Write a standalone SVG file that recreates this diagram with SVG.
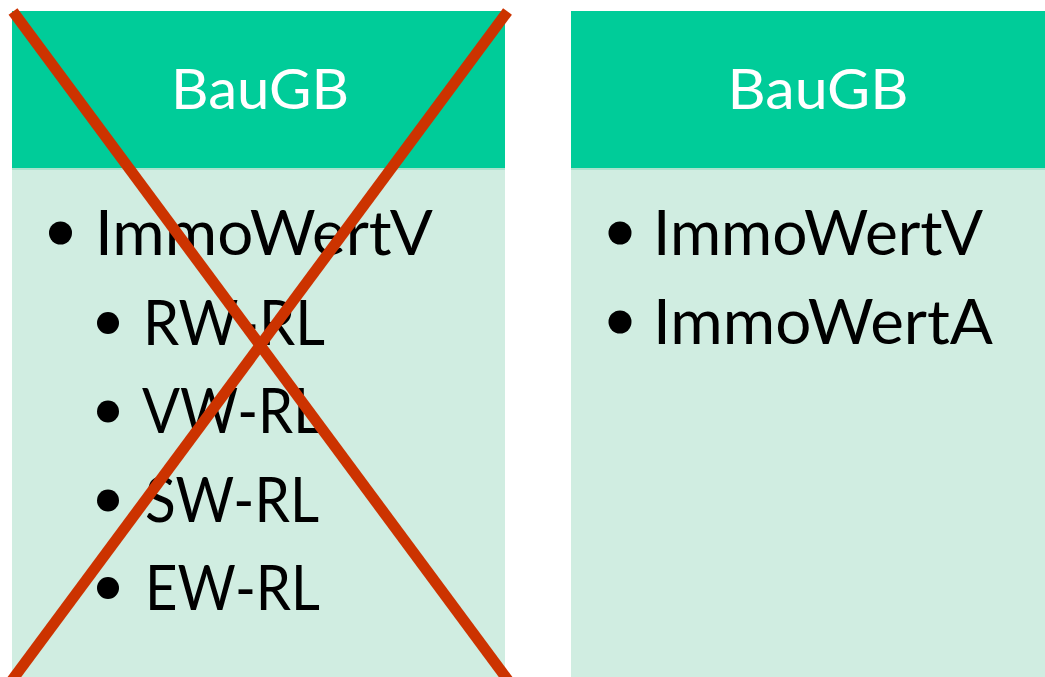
<svg xmlns="http://www.w3.org/2000/svg" width="1045" height="677" viewBox="0 0 1045 677">
<style>
.hdr{fill:#00CC99}
.body{fill:#D0EDE1}
.sep{fill:#A8E3CD}
.ht{font-family:Lato,"Open Sans","Liberation Sans",sans-serif;font-size:56px;fill:#FFFFFF;text-anchor:middle}
.it{font-family:Lato,"Open Sans","Liberation Sans",sans-serif;font-size:61px;fill:#000000}
.bul{fill:#000000}
.cross{stroke:#CC3300;stroke-width:11;fill:none;stroke-linecap:butt}
</style>
<rect width="1045" height="677" fill="#FFFFFF"/>
<g id="panel-left">
<rect class="body" x="12" y="168" width="493" height="509"/>
<rect class="hdr" x="12" y="11" width="493" height="157"/>
<rect class="sep" x="12" y="168" width="493" height="2"/>
<text class="ht" x="260" y="109" textLength="178" lengthAdjust="spacingAndGlyphs">BauGB</text>
<circle class="bul" cx="60.5" cy="233" r="11.5"/>
<text class="it" x="95" y="255" textLength="338" lengthAdjust="spacingAndGlyphs">ImmoWertV</text>
<circle class="bul" cx="108" cy="323" r="11"/>
<text class="it" x="143" y="345" textLength="182" lengthAdjust="spacingAndGlyphs">RW-RL</text>
<circle class="bul" cx="108" cy="411.5" r="11"/>
<text class="it" x="142" y="433" textLength="180" lengthAdjust="spacingAndGlyphs">VW-RL</text>
<circle class="bul" cx="108" cy="500.5" r="11"/>
<text class="it" x="145" y="522" textLength="174" lengthAdjust="spacingAndGlyphs">SW-RL</text>
<circle class="bul" cx="108" cy="588" r="11"/>
<text class="it" x="145" y="610" textLength="175" lengthAdjust="spacingAndGlyphs">EW-RL</text>
</g>
<g id="panel-right">
<rect class="body" x="571" y="168" width="474" height="509"/>
<rect class="hdr" x="571" y="11" width="474" height="157"/>
<rect class="sep" x="571" y="168" width="474" height="2"/>
<text class="ht" x="818" y="109" textLength="181" lengthAdjust="spacingAndGlyphs">BauGB</text>
<circle class="bul" cx="620" cy="233" r="11.5"/>
<text class="it" x="653" y="255" textLength="330" lengthAdjust="spacingAndGlyphs">ImmoWertV</text>
<circle class="bul" cx="620" cy="322" r="11.5"/>
<text class="it" x="653" y="344" textLength="340" lengthAdjust="spacingAndGlyphs">ImmoWertA</text>
</g>
<g id="connectors">
<line class="cross" x1="13" y1="11.5" x2="513" y2="687"/>
<line class="cross" x1="507.5" y1="11.5" x2="7" y2="687"/>
</g>
</svg>
